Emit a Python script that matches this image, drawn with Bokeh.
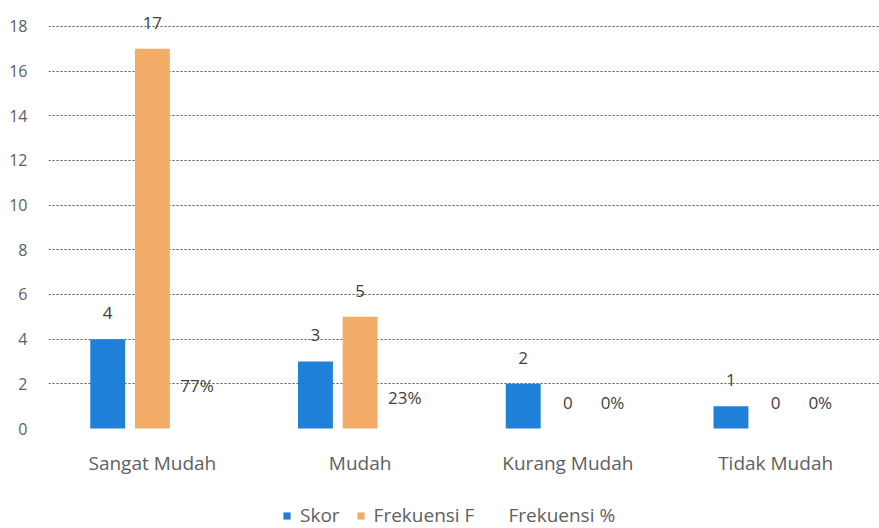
from bokeh.plotting import figure
from bokeh.models import (ColumnDataSource, FactorRange, Legend, LegendItem,
                          FixedTicker, LabelSet)
from bokeh.core.properties import value
from bokeh.transform import dodge
from bokeh.embed import file_html
from bokeh.resources import INLINE

categories = ["Sangat Mudah", "Mudah", "Kurang Mudah", "Tidak Mudah"]
skor = [4, 3, 2, 1]
frekuensi_f = [17, 5, 0, 0]
frekuensi_pct = [0.77, 0.23, 0.0, 0.0]
pct_labels = ["77%", "23%", "0%", "0%"]
y_ticks = [0, 2, 4, 6, 8, 10, 12, 14, 16, 18]

src = ColumnDataSource(dict(
    cat=categories,
    zero=[0] * len(categories),
    skor=skor,
    f=frekuensi_f,
    pct=frekuensi_pct,
    skor_lbl=[str(v) for v in skor],
    f_lbl=[str(v) for v in frekuensi_f],
    pct_lbl=pct_labels,
))

FONT = "Open Sans"
TXT = "#606060"

# the frame reaches down to the bottom edge so the category names and the
# legend can sit beneath the zero line inside it
FRAME_H = 520
Y_TOP = 18.8
PX_PER_UNIT = 420 / Y_TOP
Y_BOTTOM = -(FRAME_H - 420) / PX_PER_UNIT

p = figure(x_range=FactorRange(*categories, range_padding=0),
           y_range=(Y_BOTTOM, Y_TOP),
           frame_width=831, frame_height=FRAME_H,
           x_axis_location=None,
           output_backend="svg", toolbar_location=None,
           min_border_left=48, min_border_right=0,
           min_border_top=8, min_border_bottom=0)

off = 0.215
bw = 0.168
r_skor = p.vbar(x=dodge("cat", -off, range=p.x_range), top="skor", width=bw,
                source=src, fill_color="#1F80D8", line_color=None)
r_f = p.vbar(x=dodge("cat", 0.0, range=p.x_range), top="f", width=bw,
             source=src, fill_color="#F3AC68", line_color=None)
r_pct = p.vbar(x=dodge("cat", off, range=p.x_range), top="pct", width=bw,
               source=src, fill_color=None, line_color=None)

# value labels above each bar
for col_x, top, lbl in [(-off, "skor", "skor_lbl"), (0.0, "f", "f_lbl"),
                        (off, "pct", "pct_lbl")]:
    ls = LabelSet(x=dodge("cat", col_x, range=p.x_range), y=top, text=lbl,
                  source=src, y_offset=26, text_align="center",
                  text_baseline="middle", text_font=value(FONT),
                  text_font_size=value("17px"), text_color=value("#404040"))
    p.add_layout(ls)

# category names under the zero line
cat_labels = LabelSet(x="cat", y="zero", text="cat", source=src,
                      y_offset=-34, text_align="center",
                      text_baseline="middle", text_font=value(FONT),
                      text_font_size=value("19px"), text_color=value(TXT))
p.add_layout(cat_labels)

# y axis
p.yaxis.ticker = FixedTicker(ticks=y_ticks)
p.yaxis.axis_line_color = None
p.yaxis.major_tick_line_color = None
p.yaxis.minor_tick_line_color = None
p.yaxis.major_label_text_font = FONT
p.yaxis.major_label_text_font_size = "16px"
p.yaxis.major_label_text_color = TXT
p.yaxis.major_label_standoff = 15

p.xgrid.grid_line_color = None
p.ygrid.ticker = FixedTicker(ticks=y_ticks[1:])
p.ygrid.grid_line_color = "#555555"
p.ygrid.grid_line_dash = "2 2"
p.ygrid.grid_line_width = 1

p.outline_line_color = None

legend = Legend(items=[
    LegendItem(label="Skor", renderers=[r_skor]),
    LegendItem(label="Frekuensi F", renderers=[r_f]),
    LegendItem(label="Frekuensi %", renderers=[r_pct]),
], orientation="horizontal", location=(234, 0))
legend.label_text_font = FONT
legend.label_text_font_size = "19px"
legend.label_text_color = TXT
legend.border_line_color = None
legend.background_fill_alpha = 0
legend.glyph_width = 9
legend.glyph_height = 9
legend.spacing = 16
legend.label_standoff = 9
legend.padding = 0
legend.margin = 0
p.add_layout(legend)

open("out.html", "w").write(file_html(p, INLINE))
